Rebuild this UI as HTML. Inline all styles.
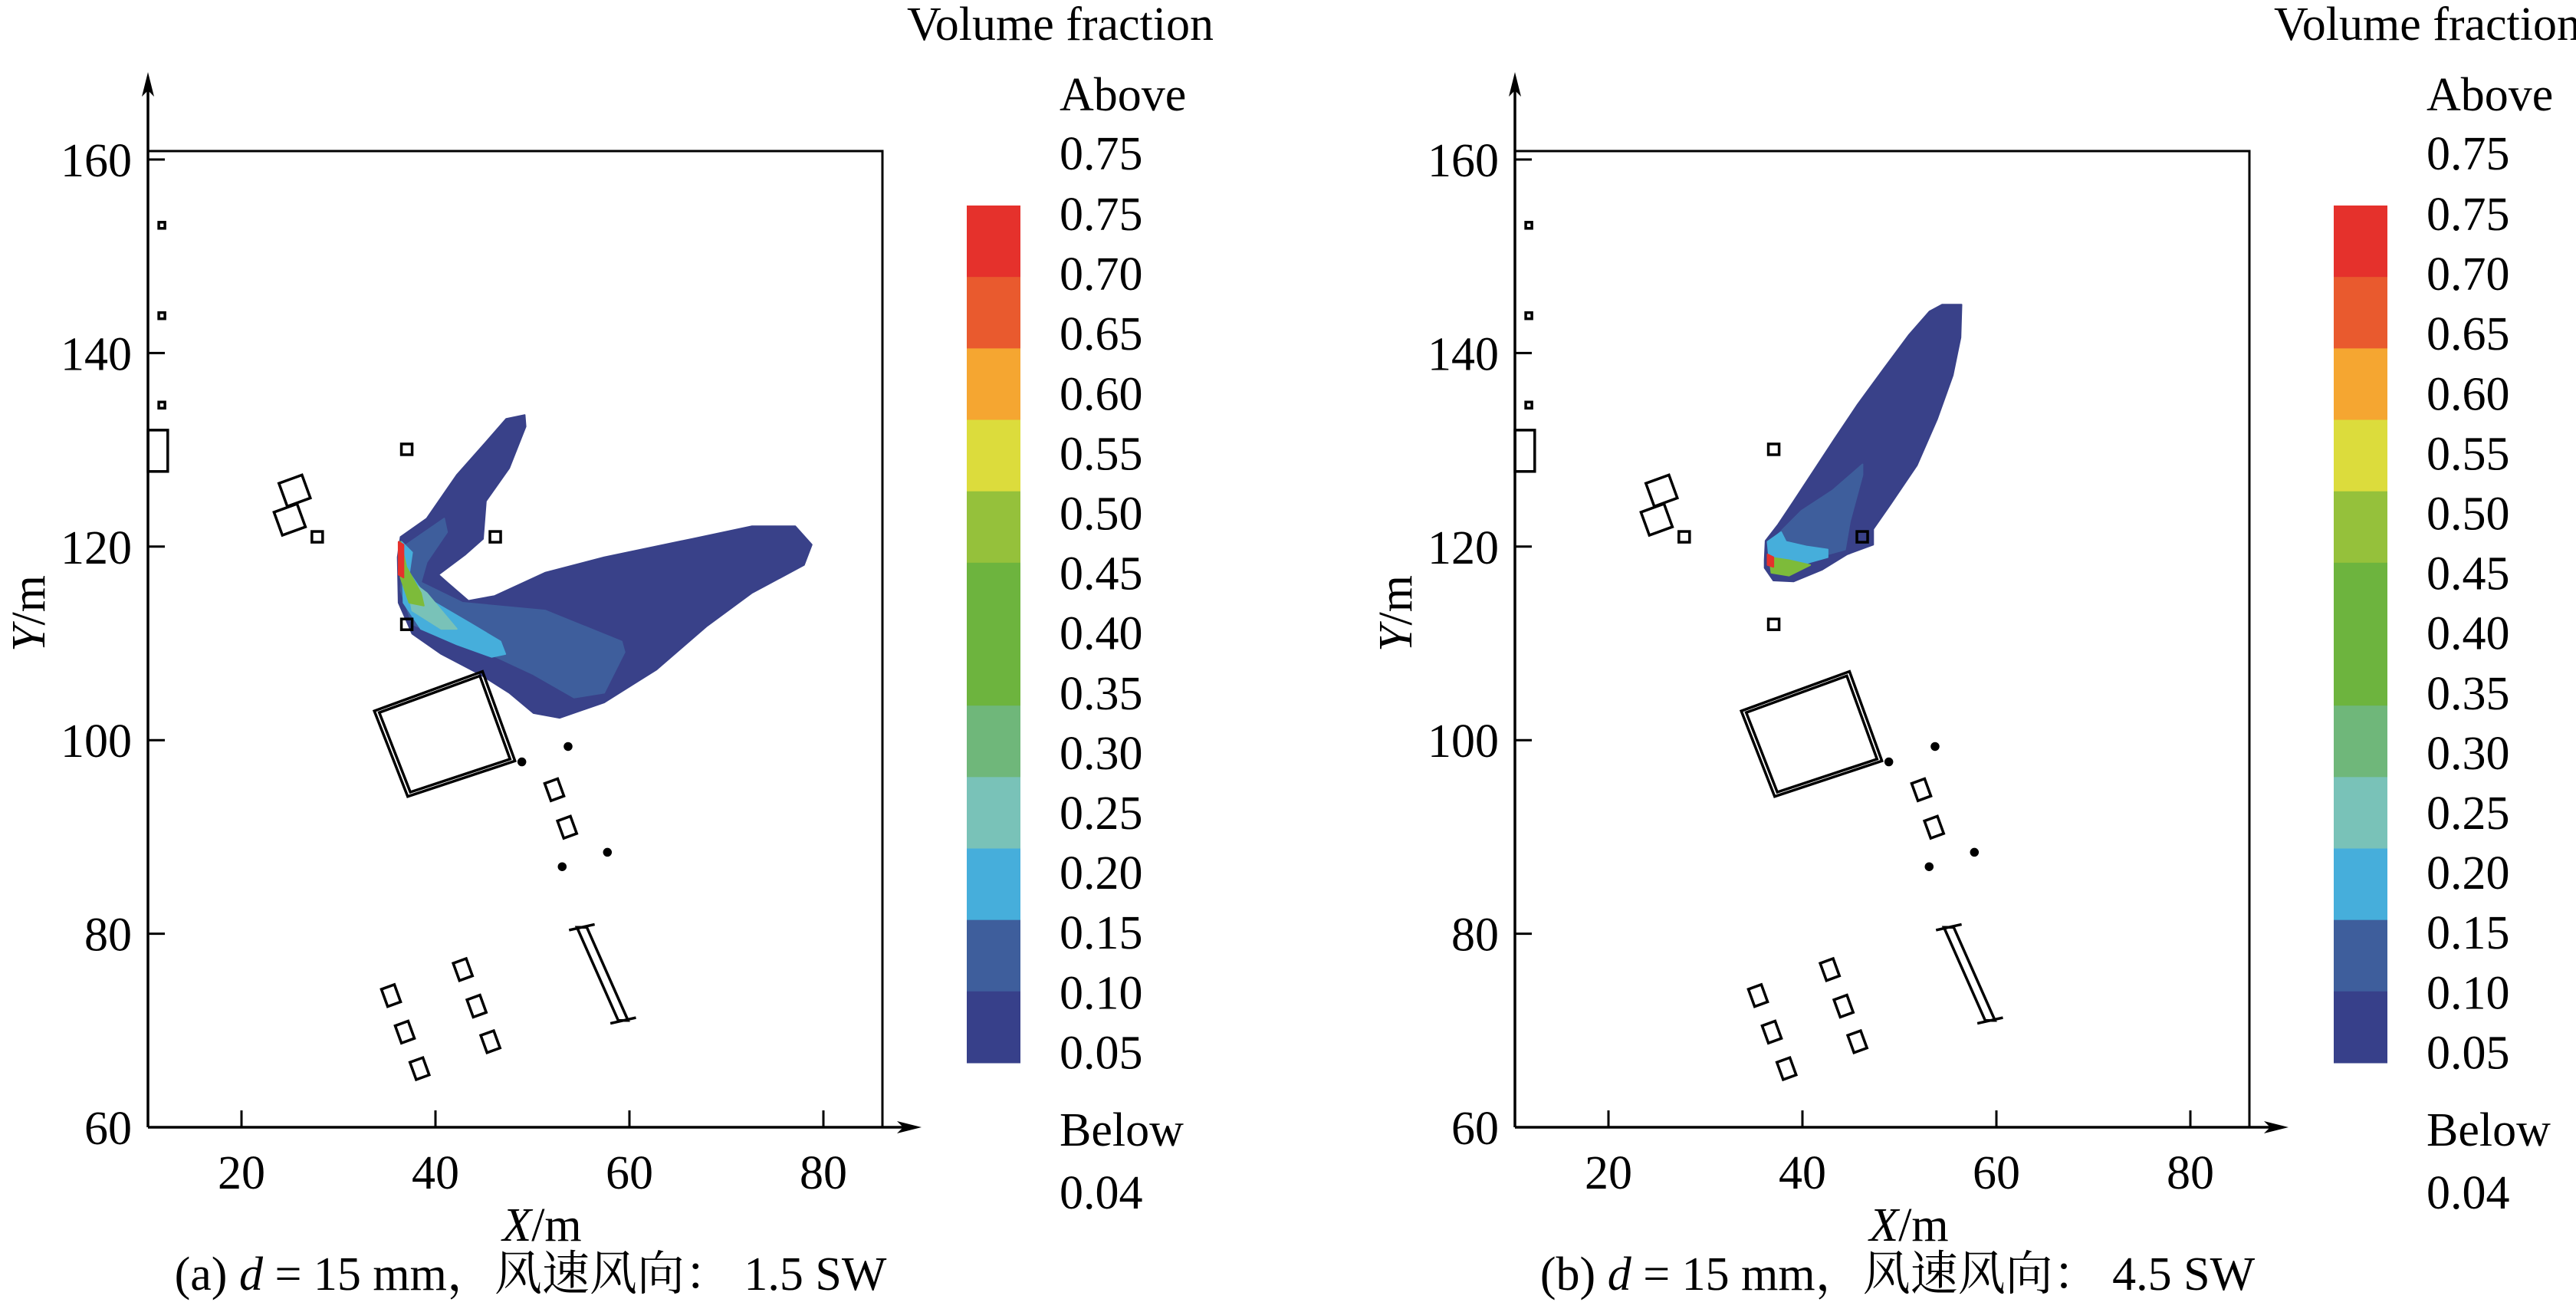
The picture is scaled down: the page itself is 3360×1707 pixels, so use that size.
<!DOCTYPE html>
<html><head><meta charset="utf-8"><style>
html,body{margin:0;padding:0;background:#fff;}
svg{display:block;font-family:"Liberation Serif","Noto Serif CJK SC",serif;}
</style></head><body>
<svg id="chart" width="3360" height="1707" viewBox="0 0 3360 1707" xmlns="http://www.w3.org/2000/svg"></svg>
<script>
const NS="http://www.w3.org/2000/svg";
const xTicks=[20,40,60,80];
const yTicks=[60,80,100,120,140,160];
const cbLabels=["0.75","0.70","0.65","0.60","0.55","0.50","0.45","0.40","0.35","0.30","0.25","0.20","0.15","0.10","0.05"];
const cbColors=["#e5312c","#e95a2e","#f5a631","#dcdc3c","#95c13b","#6db43e","#6db43e","#6fb77a","#79c2b8","#46aedb","#3e5e9c","#37408a"];
const captions=["(a) ","(b) "];
const windText=["1.5 SW","4.5 SW"];
// plume polygons in data coords [x,y]
const plumeA_outer=[[36.4,121.0],[39.1,122.9],[42.2,127.4],[45.2,130.8],[47.3,133.2],[49.2,133.6],[49.3,132.4],[47.6,128.1],[45.2,124.7],[44.9,120.8],[43.1,119.2],[40.3,117.1],[41.2,116.3],[43.4,114.4],[46.1,114.9],[51.3,117.3],[57.4,118.9],[66.5,120.8],[72.6,122.1],[77.1,122.1],[78.8,120.2],[78.0,118.1],[72.6,115.2],[68.0,111.8],[62.8,107.3],[57.4,103.9],[52.8,102.3],[50.1,102.8],[47.6,104.9],[44.6,106.8],[40.6,108.9],[37.6,111.0],[36.2,114.2],[36.1,118.9]];
const plumeA_mid=[[36.7,120.0],[40.9,122.9],[41.2,121.5],[39.1,118.4],[38.5,116.3],[42.8,114.2],[51.3,113.4],[59.2,110.2],[59.5,109.1],[57.4,104.9],[54.3,104.4],[50.1,106.8],[45.2,109.1],[40.6,110.7],[37.6,112.0],[36.4,115.5]];
const plumeA_light=[[36.5,120.5],[37.6,119.4],[37.3,117.3],[39.1,114.7],[43.7,112.0],[46.7,110.2],[47.2,108.9],[45.8,108.6],[42.2,109.9],[38.5,111.5],[36.7,114.2]];
const plumeA_teal=[[37.0,116.8],[39.1,115.2],[42.2,111.5],[40.6,111.5],[37.6,113.4]];
const plumeA_green=[[36.4,120.5],[37.0,117.9],[38.5,115.2],[38.8,113.9],[37.3,114.2],[36.4,116.8]];
const plumeA_red=[[36.2,120.5],[36.7,120.2],[36.7,116.8],[36.2,117.1]];
const plumeB_outer=[[36.1,118.6],[36.2,120.6],[37.5,122.3],[39.1,124.7],[41.2,127.9],[43.3,131.1],[45.7,134.7],[48.4,138.4],[51.0,141.9],[53.1,144.3],[54.4,145.0],[56.4,145.0],[56.3,141.6],[55.5,137.7],[53.9,133.2],[51.8,128.4],[49.1,124.4],[47.3,121.8],[47.3,120.2],[44.6,119.2],[42.0,117.6],[39.1,116.4],[37.0,116.5],[36.1,117.8]];
const plumeB_mid=[[37.5,121.3],[39.9,123.7],[43.1,125.8],[46.2,128.5],[46.2,127.4],[44.9,122.6],[44.4,119.7],[42.6,119.2],[39.9,118.4],[37.3,120.0]];
const plumeB_light=[[36.4,120.5],[37.8,121.5],[38.3,120.5],[40.5,120.0],[42.6,119.7],[42.6,118.9],[40.8,118.4],[38.3,117.6],[36.6,118.4]];
const plumeB_green=[[36.6,118.9],[38.6,118.6],[40.8,118.1],[38.6,117.0],[36.8,117.3]];
const plumeB_red=[[36.4,119.2],[37.0,118.9],[37.0,117.9],[36.4,118.1]];
// site objects (site grid coords)
const smallSquares=[[11.8,153.0],[11.8,143.6],[11.8,134.3]];
const markers=[[27.6,120.6],[36.7,129.7],[45.7,120.6],[36.7,111.5]];
const dots=[[48.4,97.2],[53.1,98.8],[52.5,86.3],[57.1,87.8]];
const tiltedSquares=[[25.3,125.4],[24.8,122.4]];
const smallRects=[[51.7,94.3],[53.0,90.4],[35.1,72.9],[36.5,69.1],[38.0,65.3],[42.4,75.6],[43.8,71.8],[45.2,68.1]];
const bigRect=[[33.4,102.5],[44.4,106.6],[47.7,97.3],[36.8,93.6]];
const longBar=[[54.5,80.0],[58.7,70.3]];

const svg=document.getElementById('chart');
function el(tag,attrs,parent){const e=document.createElementNS(NS,tag);for(const k in attrs)e.setAttribute(k,attrs[k]);(parent||svg).appendChild(e);return e;}

function drawPanel(idx,off,plumes){
  const X=x=>off+315+(x-20)*12.65;
  const Y=y=>1470-(y-60)*12.62;
  const SX=x=>off+188+(x-10)*12.83;
  const SY=y=>1460-(y-60)*12.54;
  const g=el('g',{});
  
  
  const pts=a=>a.map(p=>X(p[0]).toFixed(1)+','+Y(p[1]).toFixed(1)).join(' ');
  const spts=a=>a.map(p=>SX(p[0]).toFixed(1)+','+SY(p[1]).toFixed(1)).join(' ');
  plumes.forEach(([arr,col,name])=>{
    const p=el('polygon',{points:pts(arr),fill:col,stroke:col,'stroke-width':2,'stroke-linejoin':'round'},g);
    
    
  });
  const fr=el('path',{d:`M${off+193},197 H${off+1151} V1470`,fill:'none',stroke:'#000','stroke-width':3},g);
  
  const ya=el('path',{d:`M${off+193},1470 V110`,stroke:'#000','stroke-width':3.5},g);
  
  el('path',{d:`M${off+193},94 l-8,32 l8,-8 l8,8 z`,fill:'#000'},g);
  const xa=el('path',{d:`M${off+193},1470 H${off+1185}`,stroke:'#000','stroke-width':3.5},g);
  
  el('path',{d:`M${off+1202},1470 l-32,-8 l8,8 l-8,8 z`,fill:'#000'},g);
  xTicks.forEach(t=>{
    el('line',{x1:X(t),x2:X(t),y1:1470,y2:1448,stroke:'#000','stroke-width':3},g);
    const tx=el('text',{x:X(t),y:1550,'font-size':62,'text-anchor':'middle'},g);tx.textContent=t;
    
  });
  yTicks.forEach(t=>{
    el('line',{x1:off+193,x2:off+215,y1:Y(t),y2:Y(t),stroke:'#000','stroke-width':3},g);
    const tx=el('text',{x:off+172,y:Y(t)+22,'font-size':62,'text-anchor':'end'},g);tx.textContent=t;
    
  });
  const xt=el('text',{x:off+707,y:1618,'font-size':62,'text-anchor':'middle'},g);
  xt.innerHTML='<tspan font-style="italic">X</tspan>/m';
  
  const yt=el('text',{x:0,y:0,'font-size':62,'text-anchor':'middle',transform:`translate(${off+58},800) rotate(-90)`},g);
  yt.innerHTML='<tspan font-style="italic">Y</tspan>/m';
  
  const bg=el('g',{fill:'none',stroke:'#000','stroke-width':3.5},g);
  
  smallSquares.forEach(p=>el('rect',{x:SX(p[0])-4,y:SY(p[1])-4,width:8,height:8},bg));
  el('rect',{x:SX(10.4),y:SY(131.7),width:SX(12.4)-SX(10.4),height:SY(127.4)-SY(131.7)},bg);
  markers.forEach(p=>el('rect',{x:SX(p[0])-7,y:SY(p[1])-7,width:14,height:14},bg));
  dots.forEach(p=>el('circle',{cx:SX(p[0]),cy:SY(p[1]),r:4,fill:'#000'},bg));
  tiltedSquares.forEach(p=>el('rect',{x:-16,y:-16,width:32,height:32,transform:`translate(${SX(p[0])},${SY(p[1])}) rotate(-20)`},bg));
  smallRects.forEach(p=>el('rect',{x:-9,y:-12,width:18,height:24,transform:`translate(${SX(p[0])},${SY(p[1])}) rotate(-20)`},bg));
  el('polygon',{points:spts(bigRect)},bg);
  const cx=bigRect.reduce((s,p)=>s+p[0],0)/4, cy=bigRect.reduce((s,p)=>s+p[1],0)/4;
  el('polygon',{points:spts(bigRect.map(p=>[cx+(p[0]-cx)*0.93,cy+(p[1]-cy)*0.93]))},bg);
  const a=longBar[0],b=longBar[1];
  el('polygon',{points:spts([[a[0]-0.5,a[1]],[a[0]+0.5,a[1]],[b[0]+0.5,b[1]],[b[0]-0.5,b[1]]])},bg);
  el('line',{x1:SX(a[0]-1.3),y1:SY(a[1]-0.3),x2:SX(a[0]+1.3),y2:SY(a[1]+0.3)},bg);
  el('line',{x1:SX(b[0]-1.3),y1:SY(b[1]-0.3),x2:SX(b[0]+1.3),y2:SY(b[1]+0.3)},bg);
  const cb=el('g',{},g);
  
  const top=268,bot=1386,bh=(bot-top)/cbColors.length;
  cbColors.forEach((c,i)=>el('rect',{x:off+1261,y:top+i*bh,width:70,height:bh+0.5,fill:c},cb));
  const tt=el('text',{x:off+1183,y:52,'font-size':62,textLength:400,lengthAdjust:'spacingAndGlyphs'},cb);tt.textContent='Volume fraction';
  
  const lx=off+1382;
  const t1=el('text',{x:lx,y:144,'font-size':62},cb);t1.textContent='Above';
  const t2=el('text',{x:lx,y:221,'font-size':62},cb);t2.textContent='0.75';
  cbLabels.forEach((l,i)=>{const t=el('text',{x:lx,y:300+i*78.1,'font-size':62},cb);t.textContent=l;
    });
  const t3=el('text',{x:lx,y:1494,'font-size':62},cb);t3.textContent='Below';
  const t4=el('text',{x:lx,y:1576,'font-size':62},cb);t4.textContent='0.04';
  const cap=el('text',{x:off+692,y:1682,'font-size':62,'text-anchor':'middle'},g);
  cap.innerHTML=captions[idx]+'<tspan font-style="italic">d</tspan> = 15 mm，风速风向： '+windText[idx];
  
}
const DB="#394189",MB="#3e5e9c",LB="#46aedb",TE="#79c2b8",GR="#7dbb3a",RD="#e5312c";
drawPanel(0,0,[[plumeA_outer,DB,'plume-0.05'],[plumeA_mid,MB,'plume-0.10'],[plumeA_light,LB,'plume-0.20'],[plumeA_teal,TE,'plume-0.25'],[plumeA_green,GR,'plume-0.45'],[plumeA_red,RD,'plume-0.75']]);
drawPanel(1,1783,[[plumeB_outer,DB,'plume-0.05'],[plumeB_mid,MB,'plume-0.10'],[plumeB_light,LB,'plume-0.20'],[plumeB_green,GR,'plume-0.45'],[plumeB_red,RD,'plume-0.75']]);
</script>
</body></html>
